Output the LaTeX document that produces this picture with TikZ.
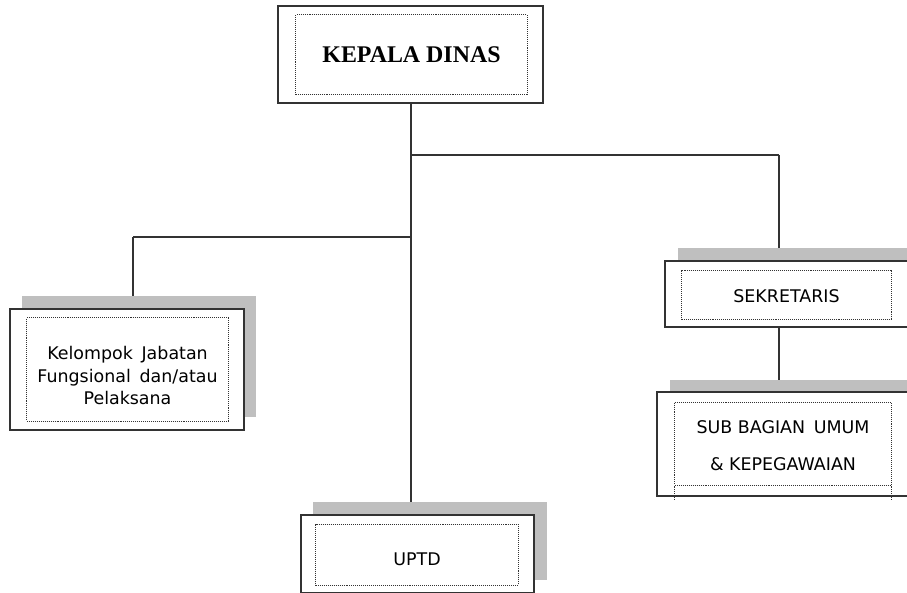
\documentclass[tikz,border=0pt]{standalone}
\usepackage{fontspec}
\setmainfont{DejaVu Sans}
\newfontfamily\headfont{Liberation Serif}

\begin{document}
\begin{tikzpicture}[x=0.025cm,y=-0.025cm]
	\tikzstyle{box}=[rectangle,draw=black!80,line width=0.8pt,fill=white,inner sep=0pt]
	\tikzstyle{shade}=[rectangle,fill=black!25,inner sep=0pt]
	\tikzstyle{inbox}=[rectangle,draw=black!80,line width=0.7pt,dash pattern=on 0.7pt off 0.7pt,inner sep=0pt,align=center,font=\fontsize{12.4}{15.5}\selectfont]
	\useasboundingbox (0,0) rectangle (907,592);
	\begin{scope}
	\node[box,minimum width=6.625cm,minimum height=2.425cm] (kd-o) at (410.5,54.5) {};
	\node[inbox,minimum width=5.775cm,minimum height=1.975cm] (kd) at (411.5,54.5) {\headfont\bfseries\fontsize{17}{20}\selectfont KEPALA DINAS};
	
	\node[shade,minimum width=5.85cm,minimum height=3.025cm] (kjf-s) at (139,356.5) {};
	\node[box,minimum width=5.85cm,minimum height=3.025cm] (kjf-o) at (127,369.5) {};
	\node[inbox,minimum width=5.025cm,minimum height=2.575cm] (kjf) at (127.5,369.5) {\raisebox{-4.5pt}[\height][\depth]{\shortstack{Kelompok\enspace Jabatan\\[1pt]Fungsional\enspace dan/atau\\[1pt]Pelaksana}}};
	
	\node[shade,minimum width=6.375cm,minimum height=1.65cm] (sek-s) at (805.5,281) {};
	\node[box,minimum width=6.375cm,minimum height=1.65cm] (sek-o) at (792.5,294) {};
	\node[inbox,minimum width=5.225cm,minimum height=1.225cm] (sek) at (786.5,294.5) {\raisebox{-1.5pt}[\height][\depth]{SEKRETARIS}};
	
	\node[shade,minimum width=6.45cm,minimum height=2.6cm] (sub-s) at (799,432) {};
	\node[box,minimum width=6.45cm,minimum height=2.6cm] (sub-o) at (786,444) {};
	\node[inbox,minimum width=5.4cm,minimum height=2.075cm] (sub) at (783,443.5) {\raisebox{-1.5pt}[\height][\depth]{\shortstack{SUB BAGIAN\enspace UMUM\\[14pt]\& KEPEGAWAIAN}}};
	
	\node[shade,minimum width=5.825cm,minimum height=1.95cm] (uptd-s) at (430,541) {};
	\node[box,minimum width=5.825cm,minimum height=1.95cm] (uptd-o) at (417.5,554) {};
	\node[inbox,minimum width=5.05cm,minimum height=1.525cm] (uptd) at (417,554.5) {\raisebox{-3.5pt}[\height][\depth]{UPTD}};
	\end{scope}
	
	\draw[draw=black!80,line width=0.7pt,dash pattern=on 0.7pt off 0.7pt]
	(sub.south west) -- ++(0,15)
	(sub.south east) -- ++(0,15);
	
	\coordinate (j1) at (411,155);
	\coordinate (j2) at (411,237);
	\coordinate (c1) at (779,155);
	\coordinate (c2) at (133,237);
	
	\path[-,draw=black!80,line width=0.8pt]
	(kd-o.south -| j1) edge (uptd-s.north -| j1)
	(j1) edge (c1)
	(c1) edge (c1 |- sek-s.north)
	(c1 |- sek-o.south) edge (c1 |- sub-s.north)
	(j2) edge (c2)
	(c2) edge (c2 |- kjf-s.north)
	;
\end{tikzpicture}
\end{document}
